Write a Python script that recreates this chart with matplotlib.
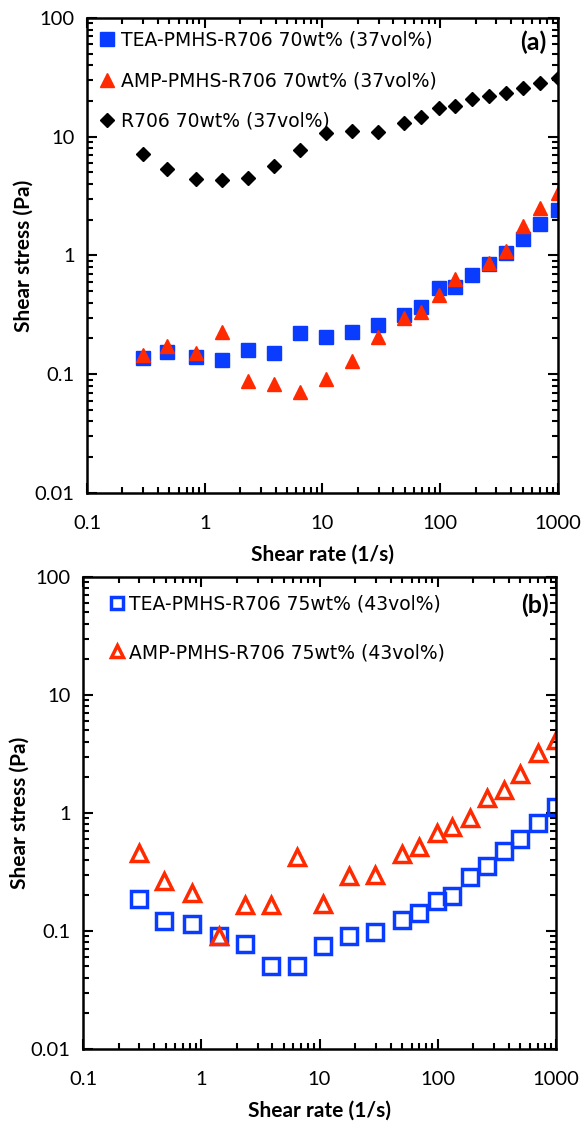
import numpy as np
import matplotlib.pyplot as plt
from matplotlib.ticker import LogLocator, FixedLocator, NullFormatter

# shear rate (1/s), same grid for every series
rate = [0.3, 0.48, 0.84, 1.4, 2.33, 3.87, 6.4, 10.7, 17.8, 29.4,
        49.5, 69, 98, 133, 187, 260, 363, 500, 700, 1000]

# panel (a): 70wt% (37vol%)
tea_70 = [0.136, 0.155, 0.141, 0.132, 0.16, 0.152, 0.221, 0.207, 0.225, 0.26,
          0.315, 0.366, 0.53, 0.546, 0.685, 0.85, 1.04, 1.37, 1.84, 2.42]
amp_70 = [0.145, 0.173, 0.15, 0.228, 0.087, 0.083, 0.071, 0.092, 0.128, 0.207,
          0.30, 0.336, 0.465, 0.63, np.nan, 0.86, 1.1, 1.77, 2.5, 3.34]
r706_70 = [7.16, 5.32, 4.41, 4.32, 4.52, 5.71, 7.73, 10.7, 11.2, 10.9,
           13.1, 14.6, 17.3, 18.3, 20.7, 22.0, 23.5, 25.6, 28.2, 31.4]

# panel (b): 75wt% (43vol%)
tea_75 = [0.186, 0.122, 0.115, 0.091, 0.078, 0.050, 0.050, 0.075, 0.090, 0.098,
          0.124, 0.141, 0.181, 0.199, 0.288, 0.356, 0.48, 0.598, 0.828, 1.13]
amp_75 = [0.455, 0.267, 0.209, 0.090, 0.166, 0.166, 0.42, 0.169, 0.292, 0.298,
          0.45, 0.518, 0.673, 0.757, 0.90, 1.33, 1.58, 2.13, 3.2, 4.16]

labels_a = ["TEA-PMHS-R706 70wt% (37vol%)", "AMP-PMHS-R706 70wt% (37vol%)",
            "R706 70wt% (37vol%)"]
labels_b = ["TEA-PMHS-R706 75wt% (43vol%)", "AMP-PMHS-R706 75wt% (43vol%)"]
xticks = [0.1, 1, 10, 100, 1000]
xtick_labels = ["0.1", "1", "10", "100", "1000"]
yticks = [0.01, 0.1, 1, 10, 100]
ytick_labels = ["0.01", "0.1", "1", "10", "100"]

blue = "#0a3cff"
red = "#ff2a00"

fig = plt.figure(figsize=(5.87, 11.26), dpi=100)
ax1 = fig.add_axes([0.1482, 0.5622, 0.8024, 0.4218])
ax2 = fig.add_axes([0.1414, 0.0684, 0.8058, 0.4192])


def style(ax, tag, tag_x, tag_y):
    ax.set_xscale("log")
    ax.set_yscale("log")
    ax.set_xlim(0.1, 1000)
    ax.set_ylim(0.01, 100)
    ax.xaxis.set_major_locator(FixedLocator(xticks))
    ax.set_xticklabels(xtick_labels)
    ax.yaxis.set_major_locator(FixedLocator(yticks))
    ax.set_yticklabels(ytick_labels)
    ax.xaxis.set_minor_locator(LogLocator(base=10, subs=np.arange(2, 10)))
    ax.yaxis.set_minor_locator(LogLocator(base=10, subs=np.arange(2, 10)))
    ax.xaxis.set_minor_formatter(NullFormatter())
    ax.yaxis.set_minor_formatter(NullFormatter())
    ax.tick_params(which="both", direction="in", top=True, right=True,
                   width=1.5, labelsize=14.5, colors="black")
    ax.tick_params(which="major", length=7)
    ax.tick_params(which="minor", length=4)
    ax.tick_params(axis="x", which="major", pad=16)
    ax.tick_params(axis="y", which="major", pad=9)
    for t in ax.get_xticklabels() + ax.get_yticklabels():
        t.set_family("Lato")
    for s in ax.spines.values():
        s.set_linewidth(1.8)
    ax.set_xlabel("Shear rate (1/s)", family="Lato", fontweight="bold",
                  fontsize=15, labelpad=9)
    ax.set_ylabel("Shear stress (Pa)", family="Lato", fontweight="bold",
                  fontsize=15, labelpad=1)
    ax.text(tag_x, tag_y, tag, transform=ax.transAxes, ha="right", va="center",
            fontsize=18, fontweight="bold", family="Lato")


# (a)
ax1.plot(rate, tea_70, "s", color=blue, ms=10.5, mec=blue, label=labels_a[0])
ax1.plot(rate, amp_70, "^", color=red, ms=10.5, mec=red, label=labels_a[1])
ax1.plot(rate, r706_70, "D", color="black", ms=7.5, label=labels_a[2])
style(ax1, "(a)", 0.975, 0.949)
ax1.legend(loc="upper left", frameon=False, fontsize=13.5, handletextpad=0.24,
           handlelength=1.0, labelspacing=1.15, borderaxespad=0, borderpad=0,
           markerscale=0.95, bbox_to_anchor=(0.022, 0.973))

# (b)
ax2.plot(rate, tea_75, "s", mfc="none", mec=blue, mew=2.5, ms=11,
         label=labels_b[0])
ax2.plot(rate, amp_75, "^", mfc="none", mec=red, mew=2.5, ms=11,
         label=labels_b[1])
style(ax2, "(b)", 0.985, 0.941)
ax2.legend(loc="upper left", frameon=False, fontsize=13.5, handletextpad=0.13,
           handlelength=1.0, labelspacing=1.58, borderaxespad=0, borderpad=0,
           markerscale=0.85, bbox_to_anchor=(0.052, 0.963))

fig.savefig("out.png", dpi=100)
